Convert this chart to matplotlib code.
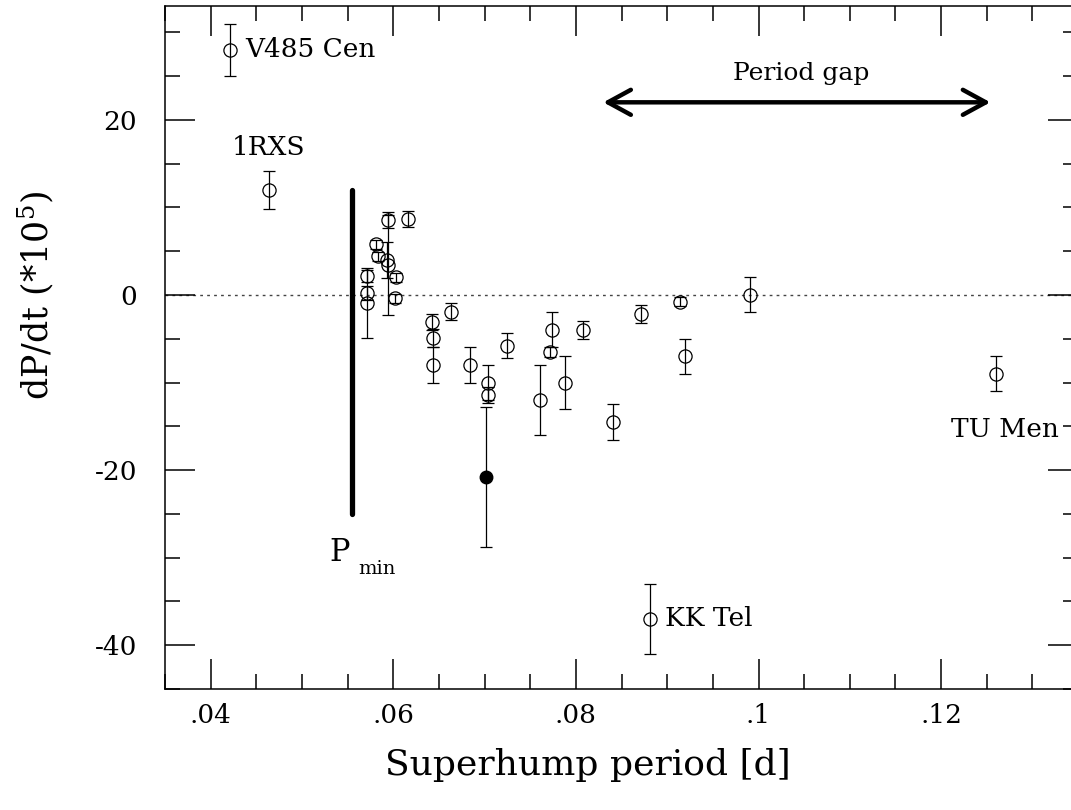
import matplotlib
matplotlib.use("Agg")
import matplotlib.pyplot as plt
from matplotlib.ticker import MultipleLocator, FixedLocator

plt.rcParams['font.family'] = 'DejaVu Serif'
plt.rcParams['mathtext.fontset'] = 'dejavuserif'
plt.rcParams['axes.unicode_minus'] = False

# superhump period [d], dP/dt (*1e5), error
period = [0.0421, 0.0464, 0.05717, 0.05717, 0.05717, 0.05816, 0.05827, 0.05947,
          0.0593, 0.0594, 0.06035, 0.06024, 0.06156, 0.06419, 0.06437, 0.06437,
          0.06637, 0.06845, 0.0704, 0.0704, 0.0724, 0.07605, 0.07737, 0.07715,
          0.07876, 0.08073, 0.08409, 0.08709, 0.0881, 0.0914, 0.0920, 0.0991, 0.126]
pdot = [28.0, 12.0, 2.2, 0.2, -0.9, 5.8, 4.4, 8.6,
        4.0, 3.4, 2.0, -0.4, 8.7, -3.1, -4.9, -8.0,
        -1.9, -8.0, -10.0, -11.4, -5.8, -12.0, -4.0, -6.5,
        -10.0, -4.0, -14.5, -2.2, -37.0, -0.75, -7.0, 0.0, -9.0]
pdot_err = [3.0, 2.2, 0.7, 0.8, 4.0, 0.5, 0.5, 0.9,
            2.1, 5.7, 0.5, 0.5, 0.9, 0.9, 1.0, 2.0,
            1.0, 2.0, 2.0, 0.9, 1.4, 4.0, 2.0, 0.6,
            3.0, 1.0, 2.1, 1.0, 4.0, 0.5, 2.0, 2.0, 2.0]

# the one filled point
period_f = [0.0701]
pdot_f = [-20.8]
pdot_f_err = [8.0]

xticks = [0.04, 0.06, 0.08, 0.10, 0.12]
xtick_labels = ['.04', '.06', '.08', '.1', '.12']
yticks = [20, 0, -20, -40]
ytick_labels = ['20', '0', '-20', '-40']

p_min = 0.0555
gap_start, gap_end = 0.083, 0.1254

fig = plt.figure(figsize=(10.71, 8.1), dpi=100)
ax = fig.add_axes([0.1541, 0.1494, 0.8525, 0.8432])

# zero line
ax.axhline(0, color='#444444', lw=1.0, ls=(0, (2, 3)), zorder=1)

ax.errorbar(period, pdot, yerr=pdot_err, fmt='o', ms=9.5, mfc='none', mec='black',
            mew=0.9, ecolor='black', elinewidth=0.9, capsize=4.5, capthick=0.9, zorder=3)
ax.errorbar(period_f, pdot_f, yerr=pdot_f_err, fmt='o', ms=9, mfc='black', mec='black',
            ecolor='black', elinewidth=0.9, capsize=4.5, capthick=0.9, zorder=3)

# minimum period line
ax.plot([p_min, p_min], [-25, 12], color='black', lw=3.8, solid_capstyle='round', zorder=2)
ax.text(0.0530, -30.4, 'P', fontsize=22, va='baseline', ha='left')
ax.text(0.0562, -31.9, 'min', fontsize=14, va='baseline', ha='left')

# period gap arrow
ax.annotate('', xy=(gap_start, 22), xytext=(gap_end, 22),
            arrowprops=dict(arrowstyle='<->,head_length=0.55,head_width=0.3',
                            lw=3.2, color='black', mutation_scale=30, shrinkA=0, shrinkB=0))
ax.text(0.1047, 24.6, 'Period gap', fontsize=18, ha='center', va='baseline')

# star names
ax.text(0.0438, 28, 'V485 Cen', fontsize=19, ha='left', va='center')
ax.text(0.0423, 16, '1RXS', fontsize=19, ha='left', va='baseline')
ax.text(0.0898, -37, 'KK Tel', fontsize=19, ha='left', va='center')
ax.text(0.1270, -15.4, 'TU Men', fontsize=19, ha='center', va='center')

ax.set_xlim(0.035, 0.135)
ax.set_ylim(-45, 33)

ax.xaxis.set_major_locator(FixedLocator(xticks))
ax.set_xticklabels(xtick_labels)
ax.xaxis.set_minor_locator(MultipleLocator(0.005))
ax.yaxis.set_major_locator(FixedLocator(yticks))
ax.set_yticklabels(ytick_labels)
ax.yaxis.set_minor_locator(MultipleLocator(5))

ax.tick_params(which='both', direction='in', top=True, right=True, width=1.1)
ax.tick_params(which='major', length=21.5, labelsize=19)
ax.tick_params(which='minor', length=11)
ax.tick_params(axis='x', which='major', pad=10)
ax.tick_params(axis='y', which='major', pad=20)
for s in ax.spines.values():
    s.set_linewidth(1.1)

ax.set_xlabel('Superhump period [d]', fontsize=26, va='center')
ax.xaxis.set_label_coords(0.463, -0.111)
ax.set_ylabel('dP/dt (*10$^5$)', fontsize=25, va='center')
ax.yaxis.set_label_coords(-0.142, 0.577)

fig.savefig('out.png', dpi=100)
